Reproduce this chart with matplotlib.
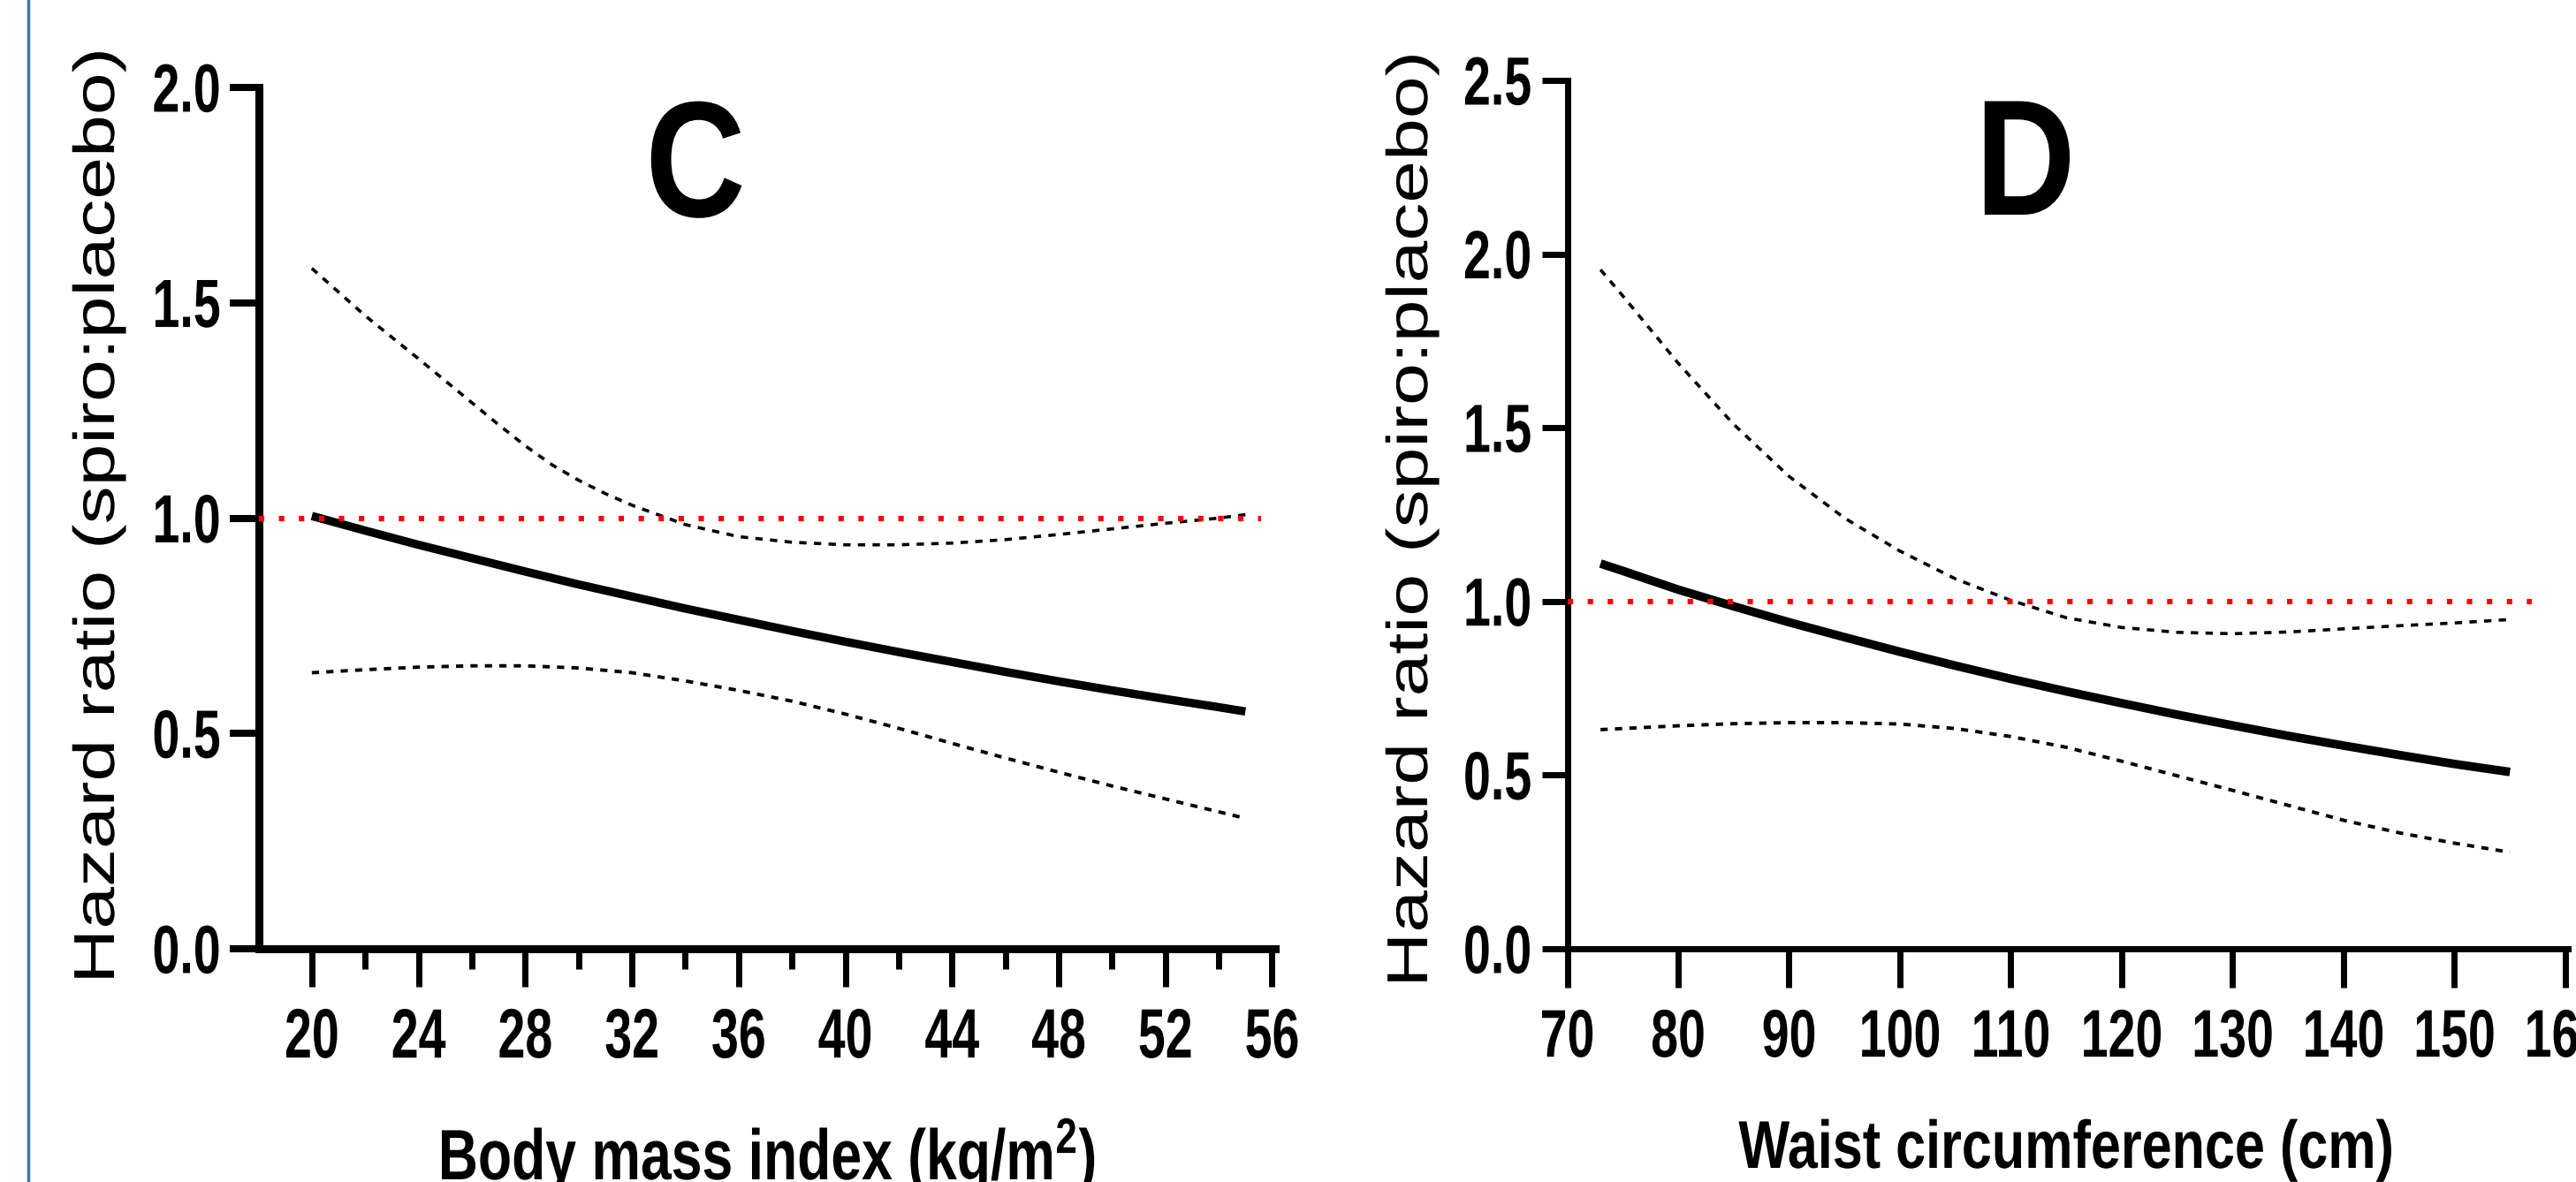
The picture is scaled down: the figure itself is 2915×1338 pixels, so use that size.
import matplotlib
matplotlib.use('Agg')
import matplotlib.pyplot as plt
from matplotlib.ticker import FixedLocator, FormatStrFormatter
from matplotlib.lines import Line2D
from matplotlib.patheffects import AbstractPathEffect
from matplotlib.transforms import Affine2D

SANS = ['Liberation Sans', 'DejaVu Sans']
plt.rcParams['font.family'] = SANS
plt.rcParams['font.weight'] = 'bold'
plt.rcParams['mathtext.fontset'] = 'custom'
plt.rcParams['mathtext.rm'] = 'Liberation Sans:bold'
plt.rcParams['mathtext.bf'] = 'Liberation Sans:bold'
plt.rcParams['mathtext.it'] = 'Liberation Sans:bold'

# ---------------- data: panel C (BMI) ----------------
bmi = [20, 22, 24, 26, 28, 30, 32, 34, 36, 38, 40, 42, 44, 46, 48, 50, 52, 54, 55]
bmi_hr = [1.005, 0.971, 0.938, 0.907, 0.876, 0.846, 0.818, 0.790, 0.764, 0.738,
          0.713, 0.689, 0.666, 0.643, 0.621, 0.600, 0.580, 0.561, 0.551]
bmi_lower = [0.641, 0.648, 0.654, 0.657, 0.657, 0.652, 0.641, 0.622, 0.600, 0.575,
             0.545, 0.512, 0.477, 0.443, 0.410, 0.378, 0.348, 0.318, 0.303]
bmi_upper_x = [20, 22, 24, 26, 27, 28, 29, 30, 31, 32, 34, 36, 38, 40, 42, 44,
               46, 48, 50, 52, 54, 55]
bmi_upper = [1.58, 1.47, 1.37, 1.268, 1.217, 1.168, 1.124, 1.088, 1.057, 1.030,
             0.985, 0.957, 0.944, 0.938, 0.938, 0.942, 0.950, 0.962, 0.975, 0.988,
             1.000, 1.008]
bmi_ref_x = [18, 55.6]
bmi_xticks = [20, 24, 28, 32, 36, 40, 44, 48, 52, 56]
bmi_minor = [22, 26, 30, 34, 38, 42, 46, 50, 54]
bmi_yticks = [0.0, 0.5, 1.0, 1.5, 2.0]

# ---------------- data: panel D (waist) ----------------
waist = [73, 75, 80, 85, 90, 95, 100, 105, 110, 115, 120, 125, 130, 135, 140, 145, 150, 155]
waist_hr = [1.109, 1.088, 1.034, 0.986, 0.940, 0.897, 0.855, 0.815, 0.777, 0.741,
            0.707, 0.674, 0.643, 0.613, 0.585, 0.558, 0.532, 0.509]
waist_upper = [1.955, 1.88, 1.686, 1.51, 1.36, 1.24, 1.145, 1.065, 1.003, 0.953,
               0.925, 0.911, 0.907, 0.912, 0.921, 0.930, 0.938, 0.948]
waist_lower = [0.631, 0.634, 0.642, 0.648, 0.651, 0.651, 0.647, 0.634, 0.611, 0.580,
               0.540, 0.498, 0.456, 0.413, 0.370, 0.334, 0.304, 0.278]
waist_ref_x = [70, 157]
waist_xticks = [70, 80, 90, 100, 110, 120, 130, 140, 150, 160]
waist_yticks = [0.0, 0.5, 1.0, 1.5, 2.0, 2.5]

ylabel = 'Hazard ratio (spiro:placebo)'
xlabel_c = r'Body mass index (kg/m$^{2}$)'
xlabel_d = 'Waist circumference (cm)'


class Stretch(AbstractPathEffect):
    """Scale the glyph outlines in the text's own coordinates (along / across the line),
    mimicking the tall, condensed lettering of the source figure."""

    def __init__(self, sx=1.0, sy=1.0, xanchor='center', yanchor='center'):
        super().__init__()
        self.sx, self.sy = sx, sy
        self.xanchor, self.yanchor = xanchor, yanchor

    def draw_path(self, renderer, gc, tpath, affine, rgbFace=None):
        ext = tpath.get_extents()
        ax_ = {'left': ext.x0, 'right': ext.x1}.get(self.xanchor, 0.5 * (ext.x0 + ext.x1))
        ay_ = 0.0 if self.yanchor == 'baseline' else 0.5 * (ext.y0 + ext.y1)
        local = Affine2D().translate(-ax_, -ay_).scale(self.sx, self.sy).translate(ax_, ay_)
        renderer.draw_path(gc, tpath, local + affine, rgbFace)


W, H = 2915, 1338
fig = plt.figure(figsize=(W / 100, H / 100), dpi=100)
fig.patch.set_facecolor('white')

axC = fig.add_axes([292.5 / W, (H - 1074) / H, 1150 / W, 975 / H])
axD = fig.add_axes([1773.5 / W, (H - 1074) / H, 1132 / W, 983 / H])


def style(ax, spine_lw):
    for s in ['top', 'right']:
        ax.spines[s].set_visible(False)
    for s in ['left', 'bottom']:
        ax.spines[s].set_linewidth(spine_lw)
        ax.spines[s].set_capstyle('projecting')
        ax.spines[s].set_color('black')
    ax.yaxis.set_major_formatter(FormatStrFormatter('%.1f'))
    ax.set_facecolor('none')


def draw(ax, x, hr, ux, up, lo, refx, solid_lw):
    ax.plot(ux, up, color='black', lw=2.6, ls=(0, (2.3, 2.3)), zorder=3)
    ax.plot(x, lo, color='black', lw=2.8, ls=(0, (2.1, 2.1)), zorder=3)
    ax.plot(x, hr, color='black', lw=solid_lw, solid_capstyle='butt', zorder=4)
    ax.plot(refx, [1.0, 1.0], color='#ff0000', lw=4.4, ls=(0, (1, 2.7)),
            dash_capstyle='butt', zorder=5, clip_on=False)


# panel C
draw(axC, bmi, bmi_hr, bmi_upper_x, bmi_upper, bmi_lower, bmi_ref_x, 6.8)
axC.set_xlim(18, 56.1)
axC.set_ylim(0, 2.0)
style(axC, 6.5)
axC.xaxis.set_major_locator(FixedLocator(bmi_xticks))
axC.xaxis.set_minor_locator(FixedLocator(bmi_minor))
axC.yaxis.set_major_locator(FixedLocator(bmi_yticks))
axC.tick_params(axis='y', length=23.8, width=5.8, pad=7, labelsize=40)
axC.tick_params(axis='x', which='major', length=31, width=5.0, pad=23, labelsize=40)
axC.tick_params(axis='x', which='minor', length=16.5, width=5.0)

# panel D
draw(axD, waist, waist_hr, waist, waist_upper, waist_lower, waist_ref_x, 7.0)
axD.set_xlim(70, 160.2)
axD.set_ylim(0, 2.5)
style(axD, 5.0)
axD.xaxis.set_major_locator(FixedLocator(waist_xticks))
axD.yaxis.set_major_locator(FixedLocator(waist_yticks))
axD.tick_params(axis='y', length=21, width=5.0, pad=8, labelsize=40)
axD.tick_params(axis='x', length=32, width=5.0, pad=22, labelsize=40)

# axis labels
yl_kw = dict(rotation=90, ha='center', va='center', fontsize=47, fontweight='normal',
             path_effects=[Stretch(sx=1.316, sy=1.0)])
fig.text(112 / W, (H - 584) / H, ylabel, **yl_kw)
fig.text(1598 / W, (H - 588) / H, ylabel, **yl_kw)
fig.text(868 / W, (H - 1335) / H, xlabel_c, ha='center', va='baseline', fontsize=45,
         fontweight='bold', path_effects=[Stretch(sy=1.29, yanchor='baseline')])
fig.text(2338 / W, (H - 1322) / H, xlabel_d, ha='center', va='baseline', fontsize=44,
         fontweight='bold', path_effects=[Stretch(sy=1.25, yanchor='baseline')])

# panel letters
fig.text(787 / W, (H - 245) / H, 'C', ha='center', va='baseline', fontsize=113,
         fontweight='bold', path_effects=[Stretch(sy=1.19, yanchor='baseline')])
fig.text(2292 / W, (H - 243) / H, 'D', ha='center', va='baseline', fontsize=113,
         fontweight='bold', path_effects=[Stretch(sy=1.19, yanchor='baseline')])

# thin blue frame line on the left
fig.add_artist(Line2D([32 / W, 32 / W], [0, 1], transform=fig.transFigure,
                      color='#4a74a8', lw=2.5))

# tall, condensed tick labels
fig.canvas.draw()
for ax, sxt in ((axC, 1.425), (axD, 1.375)):
    for t in ax.get_xticklabels():
        t.set_path_effects([Stretch(sy=sxt)])
    for t in ax.get_yticklabels():
        t.set_path_effects([Stretch(sy=1.39, xanchor='right')])

fig.savefig('out.png', dpi=100)
